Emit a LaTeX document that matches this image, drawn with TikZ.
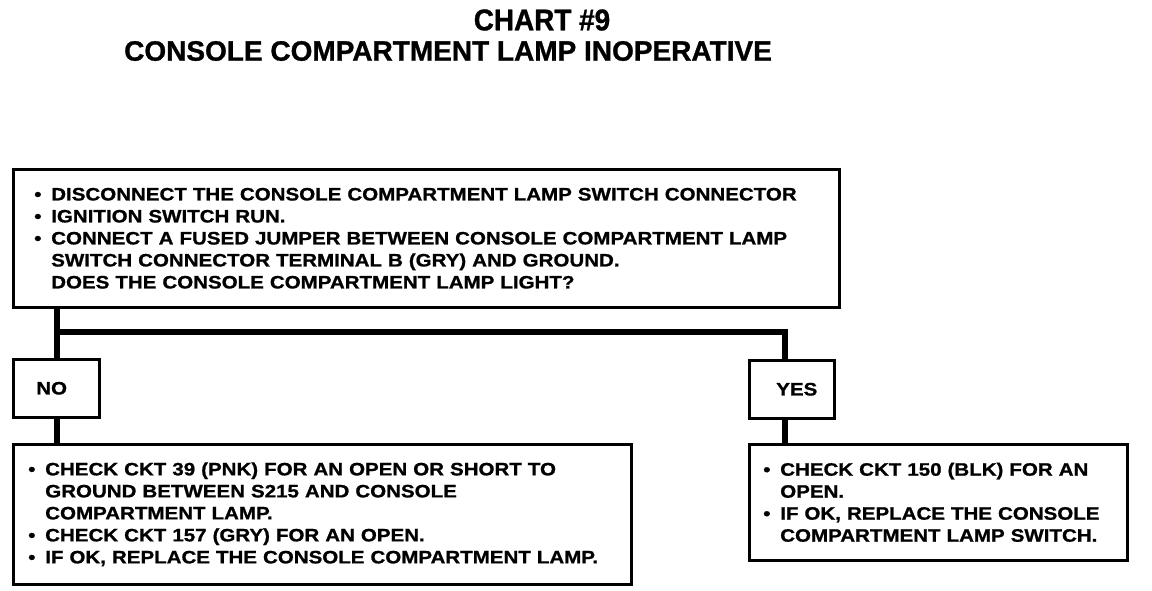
\documentclass[tikz,border=0pt]{standalone}
\usepackage{fontspec}
\newfontfamily\chartfont{Liberation Sans}[FakeStretch=1.14,FakeBold=1]
\newfontfamily\headfont{Liberation Sans}[FakeBold=1]
\newfontfamily\titlefont{Liberation Sans}[FakeStretch=0.93,FakeBold=1]
\tikzset{
  chartbox/.style={draw, line width=2.5pt, rectangle, anchor=north west, align=left,
    inner ysep=0pt, font=\chartfont\bfseries\fontsize{18}{22}\selectfont},
  wire/.style={line width=6.5pt, line join=miter}
}
\newcommand{\bul}{\makebox[17pt][l]{\textbullet}}
\newcommand{\cont}{\hspace*{17pt}}
\begin{document}
\begin{tikzpicture}[x=1pt,y=-1pt]
\useasboundingbox (0,0) rectangle (1152,590);
\node[inner sep=0pt, font=\titlefont\bfseries\fontsize{30}{32}\selectfont] (title) at (542,20) {CHART \#9};
\node[inner sep=0pt, font=\headfont\bfseries\fontsize{28}{30}\selectfont] (subtitle) at (448,51) {CONSOLE COMPARTMENT LAMP INOPERATIVE};
%question box
\node[chartbox, inner xsep=21pt, text width=784pt, minimum height=138pt] (test) at (12,168)
  {\bul DISCONNECT THE CONSOLE COMPARTMENT LAMP SWITCH CONNECTOR\\
   \bul IGNITION SWITCH RUN.\\
   \bul CONNECT A FUSED JUMPER BETWEEN CONSOLE COMPARTMENT LAMP\\
   \cont SWITCH CONNECTOR TERMINAL B (GRY) AND GROUND.\\
   \cont DOES THE CONSOLE COMPARTMENT LAMP LIGHT?};
\node[chartbox, inner xsep=23pt, text width=40pt, minimum height=58pt] (no) at (12,358) {NO};
\node[chartbox, inner xsep=27pt, text width=31pt, minimum height=58pt] (yes) at (748,359) {YES};
\node[chartbox, inner xsep=15pt, text width=588pt, minimum height=140pt] (noact) at (12,443)
  {\bul CHECK CKT 39 (PNK) FOR AN OPEN OR SHORT TO\\
   \cont GROUND BETWEEN S215 AND CONSOLE\\
   \cont COMPARTMENT LAMP.\\
   \bul CHECK CKT 157 (GRY) FOR AN OPEN.\\
   \bul IF OK, REPLACE THE CONSOLE COMPARTMENT LAMP.};
\node[chartbox, inner xsep=14pt, text width=350pt, minimum height=116pt] (yesact) at (748,443)
  {\bul CHECK CKT 150 (BLK) FOR AN\\
   \cont OPEN.\\
   \bul IF OK, REPLACE THE CONSOLE\\
   \cont COMPARTMENT LAMP SWITCH.};
%branches
\coordinate (split) at (57,332);
\coordinate (turn) at (785,332);
\draw[wire] (split |- test.south) -- (split |- no.north);
\draw[wire] (split) -- (turn) -- (turn |- yes.north);
\draw[wire] (split |- no.south) -- (split |- noact.north);
\draw[wire] (turn |- yes.south) -- (turn |- yesact.north);
\end{tikzpicture}
\end{document}
